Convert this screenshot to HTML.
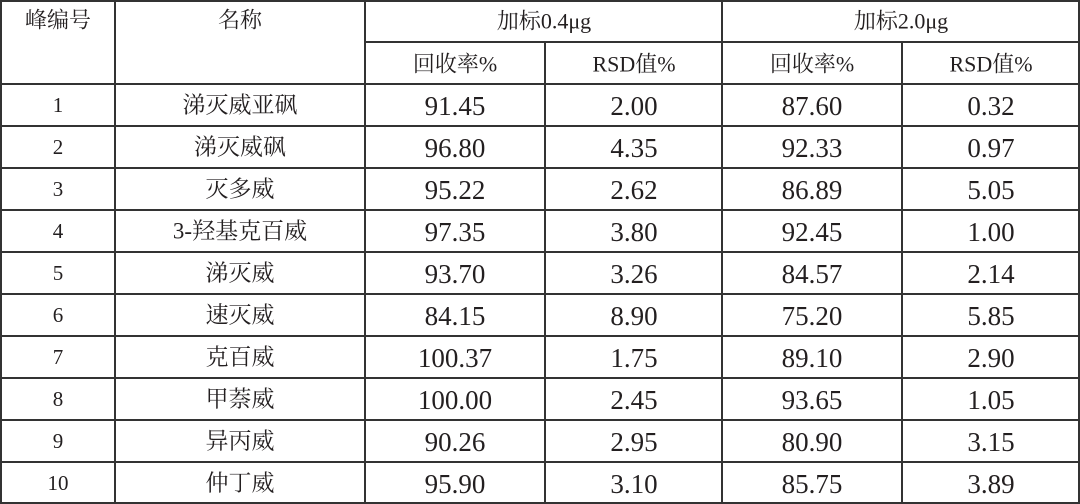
<!DOCTYPE html>
<html><head><meta charset="utf-8"><style>
html,body{margin:0;padding:0;background:#fff;}
svg{display:block;}
text{font-family:"Liberation Serif","Noto Serif CJK SC",serif;fill:#231f20;}
.h{font-size:22px;}
.n{font-size:27px;font-family:"Liberation Serif",serif;}
.s{font-size:21px;}
.c{font-size:23px;}
</style></head><body>
<svg width="1080" height="504" xmlns="http://www.w3.org/2000/svg">
<g stroke="#333" stroke-width="2" fill="none">
<line x1="0" y1="1" x2="1080" y2="1"/>
<line x1="365" y1="42" x2="1080" y2="42"/>
<line x1="0" y1="84" x2="1080" y2="84"/>
<line x1="0" y1="126" x2="1080" y2="126"/>
<line x1="0" y1="168" x2="1080" y2="168"/>
<line x1="0" y1="210" x2="1080" y2="210"/>
<line x1="0" y1="252" x2="1080" y2="252"/>
<line x1="0" y1="294" x2="1080" y2="294"/>
<line x1="0" y1="336" x2="1080" y2="336"/>
<line x1="0" y1="378" x2="1080" y2="378"/>
<line x1="0" y1="420" x2="1080" y2="420"/>
<line x1="0" y1="462" x2="1080" y2="462"/>
<line x1="0" y1="503" x2="1080" y2="503"/>
<line x1="1" y1="0" x2="1" y2="504"/>
<line x1="115" y1="0" x2="115" y2="504"/>
<line x1="365" y1="0" x2="365" y2="504"/>
<line x1="545" y1="42" x2="545" y2="504"/>
<line x1="722" y1="0" x2="722" y2="504"/>
<line x1="902" y1="42" x2="902" y2="504"/>
<line x1="1079" y1="0" x2="1079" y2="504"/>
</g>
<g text-anchor="middle" dominant-baseline="central">
<text class="h" x="58" y="20">峰编号</text>
<text class="h" x="240" y="20">名称</text>
<text class="h" x="544" y="21">加标0.4μg</text>
<text class="h" x="901" y="21">加标2.0μg</text>
<text class="h" x="455" y="64">回收率%</text>
<text class="h" x="634" y="64">RSD值%</text>
<text class="h" x="812" y="64">回收率%</text>
<text class="h" x="991" y="64">RSD值%</text>
</g>
<g text-anchor="middle" dominant-baseline="central">
<g class="s">
<text x="58" y="105">1</text><text x="58" y="147">2</text><text x="58" y="189">3</text><text x="58" y="231">4</text><text x="58" y="273">5</text><text x="58" y="315">6</text><text x="58" y="357">7</text><text x="58" y="399">8</text><text x="58" y="441">9</text><text x="58" y="483">10</text>
</g>
<g class="c">
<text x="240" y="105">涕灭威亚砜</text><text x="240" y="147">涕灭威砜</text><text x="240" y="189">灭多威</text><text x="240" y="231">3-羟基克百威</text><text x="240" y="273">涕灭威</text><text x="240" y="315">速灭威</text><text x="240" y="357">克百威</text><text x="240" y="399">甲萘威</text><text x="240" y="441">异丙威</text><text x="240" y="483">仲丁威</text>
</g>
<g class="n">
<text x="455" y="106">91.45</text><text x="634" y="106">2.00</text><text x="812" y="106">87.60</text><text x="991" y="106">0.32</text>
<text x="455" y="148">96.80</text><text x="634" y="148">4.35</text><text x="812" y="148">92.33</text><text x="991" y="148">0.97</text>
<text x="455" y="190">95.22</text><text x="634" y="190">2.62</text><text x="812" y="190">86.89</text><text x="991" y="190">5.05</text>
<text x="455" y="232">97.35</text><text x="634" y="232">3.80</text><text x="812" y="232">92.45</text><text x="991" y="232">1.00</text>
<text x="455" y="274">93.70</text><text x="634" y="274">3.26</text><text x="812" y="274">84.57</text><text x="991" y="274">2.14</text>
<text x="455" y="316">84.15</text><text x="634" y="316">8.90</text><text x="812" y="316">75.20</text><text x="991" y="316">5.85</text>
<text x="455" y="358">100.37</text><text x="634" y="358">1.75</text><text x="812" y="358">89.10</text><text x="991" y="358">2.90</text>
<text x="455" y="400">100.00</text><text x="634" y="400">2.45</text><text x="812" y="400">93.65</text><text x="991" y="400">1.05</text>
<text x="455" y="442">90.26</text><text x="634" y="442">2.95</text><text x="812" y="442">80.90</text><text x="991" y="442">3.15</text>
<text x="455" y="484">95.90</text><text x="634" y="484">3.10</text><text x="812" y="484">85.75</text><text x="991" y="484">3.89</text>
</g>
</g>
</svg>
</body></html>
